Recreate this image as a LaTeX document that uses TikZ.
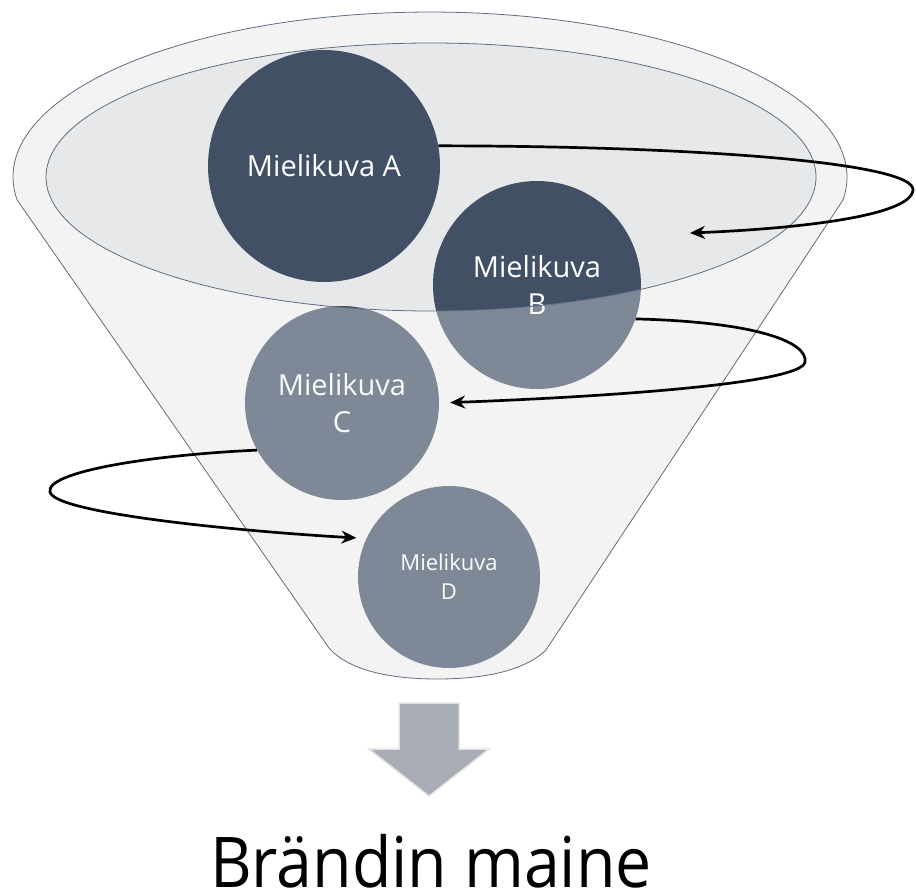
\documentclass[tikz,border=0pt]{standalone}
\usepackage{fontspec}
\setmainfont{Open Sans}
\newfontfamily\brandfont[FakeStretch=0.92]{Open Sans}
\usetikzlibrary{arrows.meta,calc}
\definecolor{darkcirc}{RGB}{66,80,102}
\definecolor{funnelfill}{RGB}{243,243,243}
\definecolor{mouthfill}{RGB}{231,232,234}
\definecolor{edgecol}{RGB}{95,110,130}
\definecolor{arrowgrey}{RGB}{168,172,181}
\definecolor{arrowedge}{RGB}{226,226,228}
\newcommand\funnelpath{(17.1,200) arc[start angle=172,end angle=368,x radius=417,y radius=165] -- (546,650) .. controls (520,675) and (470,679) .. (437,679) .. controls (395,679) and (350,672) .. (329,648) -- cycle}
\newcommand\mouthpath{(431,177) ellipse [x radius=385,y radius=134]}
\tikzset{
  bubble/.style={circle, fill=darkcirc, text=white, inner sep=0pt, align=center},
  bigtxt/.style={font=\fontsize{29}{37}\selectfont},
  smalltxt/.style={font=\fontsize{22}{29}\selectfont},
  edgeline/.style={draw=edgecol, line width=0.8pt},
  swirl/.style={draw=black, line width=2.7pt, -{Stealth[length=15pt,width=13pt]}}
}
\begin{document}
\begin{tikzpicture}[x=1pt,y=-1pt]
\useasboundingbox (0,0) rectangle (916,894);
\fill[white] (0,0) rectangle (916,894);
% funnel body and mouth
\fill[funnelfill] \funnelpath;
\fill[mouthfill] \mouthpath;
% circles
\node[bubble, bigtxt, minimum size=232pt] (A) at (324,166) {Mielikuva A};
\node[bubble, bigtxt, minimum size=208pt] (B) at (537,285) {Mielikuva\\B};
\node[bubble, bigtxt, minimum size=194pt] (C) at (342,403) {Mielikuva\\C};
\node[bubble, smalltxt, minimum size=182pt] (D) at (449,577) {Mielikuva\\D};
% translucent funnel wall over the circles (mouth left open)
\fill[funnelfill, fill opacity=0.345, even odd rule] \funnelpath \mouthpath;
\draw[edgeline] \funnelpath;
\draw[edgeline] \mouthpath;
% swirl arrows
\coordinate (t1) at (690,233);
\draw[swirl] (A.10) .. controls (700,146) and (915,163) .. (913,190) .. controls (911,217) and (790,229) .. (t1);
\draw[swirl, shorten >=11pt] (B.-19) .. controls (760,322) and (808,343) .. (805,362) .. controls (802,384) and (600,397) .. (C.east);
\draw[swirl, shorten >=10pt] (C.209) .. controls (150,455) and (45,472) .. (50,492) .. controls (55,514) and (250,532) .. (D.155);
% down arrow
\filldraw[fill=arrowgrey, draw=arrowedge, line width=1.5pt] (399,703) -- (459,703) -- (459,749) -- (489,749) -- (429,796) -- (369,749) -- (399,749) -- cycle;
% result
\node[anchor=base, font=\brandfont\fontsize{70}{76}\selectfont, inner sep=0pt] (brand) at (431,887) {Brändin maine};
\end{tikzpicture}
\end{document}
